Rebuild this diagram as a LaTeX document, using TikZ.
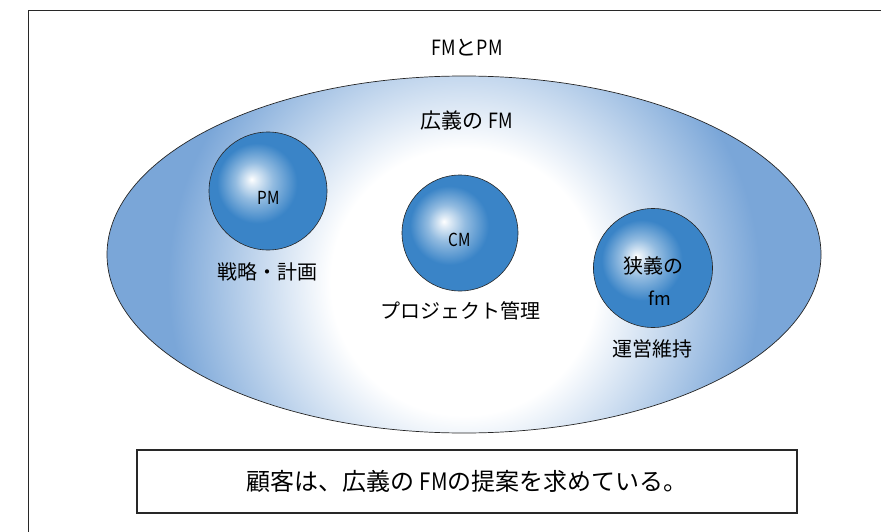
\documentclass[tikz,border=0pt]{standalone}
\usepackage{fontspec}
\usepackage{graphicx}
\setmainfont{Noto Sans CJK JP}
\definecolor{outerblue}{RGB}{122,166,216}
\definecolor{ballblue}{RGB}{58,132,199}
\definecolor{framegray}{RGB}{40,40,40}
\pgfdeclareradialshading{bgshade}{\pgfpoint{0bp}{0bp}}{%
  color(0bp)=(white); color(9bp)=(white); color(14bp)=(outerblue!45!white);
  color(20bp)=(outerblue); color(50bp)=(outerblue)}
\pgfdeclareradialshading{ballshade}{\pgfpoint{-7bp}{5bp}}{%
  color(0bp)=(white); color(2bp)=(white!85!ballblue); color(8bp)=(ballblue!55!white);
  color(17bp)=(ballblue); color(50bp)=(ballblue)}
\newcommand{\cond}[1]{\scalebox{0.85}[1]{#1}}
\tikzset{
  lbl/.style={inner sep=0pt, font=\fontsize{20}{24}\selectfont, text=black},
  latin/.style={inner sep=0pt, font=\fontsize{18}{22}\selectfont, text=black},
  ball/.style={draw=black!85, line width=0.6pt, shading=ballshade},
  framebox/.style={draw=framegray, line width=1.3pt},
}
\begin{document}
\begin{tikzpicture}[x=1pt,y=-1pt]
\useasboundingbox (0,0) rectangle (881,532);
% frame (only top and left visible)
\coordinate (ftr) at (881,10.5);
\coordinate (ftl) at (28.5,10.5);
\coordinate (fbl) at (28.5,532);
\draw[framebox] (ftr) -- (ftl) -- (fbl);
\node[lbl, font=\fontsize{21}{24}\selectfont] (title) at (467,48) {\cond{FM}と\cond{PM}};
% big ellipse with circular radial shading
\begin{scope}
  \clip (464,254.5) ellipse [x radius=357, y radius=178.5];
  \shade[shading=bgshade] (464,282) circle [radius=370];
\end{scope}
\draw[black!85, line width=0.7pt] (464,254.5) ellipse [x radius=357, y radius=178.5];
\node[lbl, font=\fontsize{21}{24}\selectfont] (wide) at (467,121) {広義の \cond{FM}};
% balls
\path[ball] (268,191) circle [radius=59];
\node[latin] (pm) at (269,198) {\cond{PM}};
\node[lbl] (pmt) at (267,272) {戦略・計画};
\path[ball] (460,233) circle [radius=58];
\node[latin] (cm) at (460,240) {\cond{CM}};
\node[lbl] (cmt) at (460,311) {プロジェクト管理};
\path[ball] (653,268) circle [radius=59.5];
\node[lbl] (fm1) at (653,266) {狭義の};
\node[latin] (fm2) at (660,298) {fm};
\node[lbl] (fmt) at (652,349) {運営維持};
% bottom box
\node[draw=framegray, line width=1.1pt, minimum width=660pt, minimum height=63pt, inner sep=0pt,
  font=\fontsize{24}{28}\selectfont] (msg) at (467,481.5) {顧客は、広義の \cond{FM}の提案を求めている。};
\end{tikzpicture}
\end{document}
